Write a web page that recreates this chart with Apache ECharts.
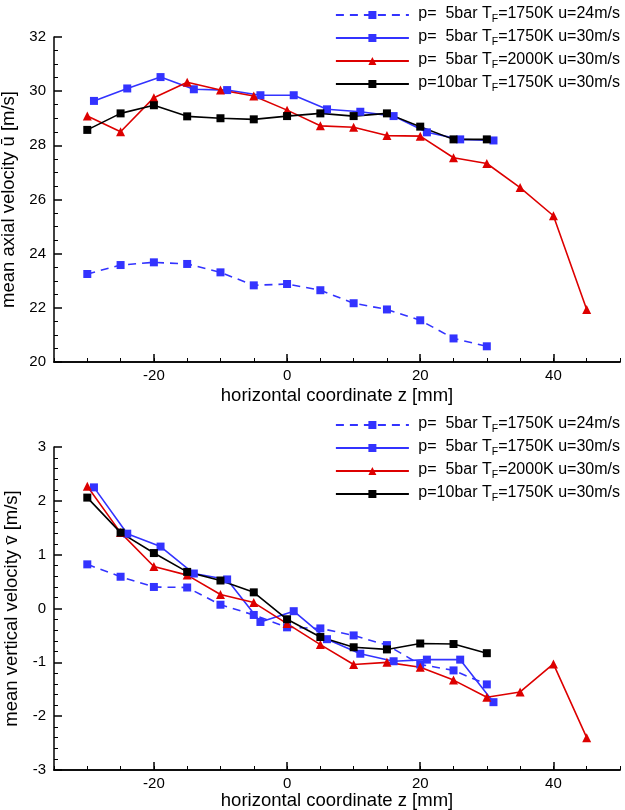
<!DOCTYPE html>
<html>
<head>
<meta charset="utf-8">
<script src="https://cdn.jsdelivr.net/npm/echarts@6/dist/echarts.min.js"></script>
<style>
  html, body { margin: 0; padding: 0; background: #fff; }
  #chart { width: 625px; height: 810px; }
</style>
</head>
<body>
<div id="chart"></div>
<script>
// z positions [mm]
const zStep = [-30, -25, -20, -15, -10, -5, 0, 5, 10, 15, 20, 25, 30];
const zShift = [-29, -24, -19, -14, -9, -4, 1, 6, 11, 16, 21, 26, 31];
const zLong = [-30, -25, -20, -15, -10, -5, 0, 5, 10, 15, 20, 25, 30, 35, 40, 45];

const names = [
  'p=  5bar TF=1750K u=24m/s',
  'p=  5bar TF=1750K u=30m/s',
  'p=  5bar TF=2000K u=30m/s',
  'p=10bar TF=1750K u=30m/s'
];

// mean axial velocity [m/s]
const uSlow = [23.25, 23.58, 23.68, 23.62, 23.31, 22.83, 22.88, 22.65, 22.17, 21.94, 21.54, 20.87, 20.58];
const uFast = [29.64, 30.1, 30.52, 30.07, 30.04, 29.85, 29.85, 29.33, 29.24, 29.08, 28.48, 28.22, 28.18];
const uHot = [29.08, 28.5, 29.76, 30.33, 30.04, 29.82, 29.3, 28.72, 28.67, 28.36, 28.34, 27.54, 27.33, 26.44, 25.4, 21.94];
const uHigh = [28.57, 29.18, 29.48, 29.07, 29.0, 28.96, 29.08, 29.18, 29.08, 29.18, 28.69, 28.22, 28.22];

// mean vertical velocity [m/s]
const vSlow = [0.82, 0.59, 0.40, 0.39, 0.07, -0.12, -0.35, -0.37, -0.5, -0.68, -1.04, -1.15, -1.41];
const vFast = [2.25, 1.39, 1.15, 0.65, 0.54, -0.25, -0.05, -0.57, -0.84, -0.98, -0.95, -0.95, -1.74];
const vHot = [2.27, 1.41, 0.78, 0.62, 0.26, 0.11, -0.28, -0.67, -1.04, -1.0, -1.09, -1.33, -1.65, -1.55, -1.03, -2.4];
const vHigh = [2.06, 1.41, 1.03, 0.68, 0.52, 0.3, -0.2, -0.53, -0.72, -0.76, -0.65, -0.66, -0.83];

const majorX = [-20, 0, 20, 40];

const FONT = "'Liberation Sans', Arial, sans-serif";
const BLUE = '#3333ff';
const RED = '#dd0000';
const BLACK = '#000000';

const pairs = (xs, ys) => xs.map((x, i) => [x, ys[i]]);

function xAxes(gridIndex, nameGap) {
  return [
    // minor ticks every 5 mm, labels only at multiples of 20
    {
      type: 'value', gridIndex: gridIndex, min: -35, max: 50, interval: 5,
      splitLine: {show: false},
      axisLine: {show: true, onZero: false, lineStyle: {color: '#000', width: 1.5}},
      axisTick: {show: true, inside: true, length: 4, lineStyle: {color: '#000', width: 1}},
      axisLabel: {
        show: true, color: '#000', fontSize: 15, fontFamily: FONT, margin: 6,
        formatter: v => (v % 20 === 0 ? String(v) : '')
      },
      name: 'horizontal coordinate z [mm]',
      nameLocation: 'middle',
      nameGap: nameGap,
      nameTextStyle: {color: '#000', fontSize: 18.5, fontFamily: FONT}
    },
    // longer major ticks, same place
    {
      type: 'value', gridIndex: gridIndex, min: -35, max: 50, position: 'bottom',
      splitLine: {show: false},
      axisLine: {show: true, onZero: false, lineStyle: {color: '#000', width: 1.5}},
      axisTick: {show: true, inside: true, length: 8, customValues: majorX, lineStyle: {color: '#000', width: 1.5}},
      axisLabel: {show: false}
    }
  ];
}

function yAxis(gridIndex, min, max, interval, split, name) {
  return {
    type: 'value', gridIndex: gridIndex, min: min, max: max, interval: interval,
    axisLine: {show: true, onZero: false, lineStyle: {color: '#000', width: 1.5}},
    axisTick: {show: true, inside: true, length: 8, lineStyle: {color: '#000', width: 1.5}},
    minorTick: {show: true, splitNumber: split, length: 4, lineStyle: {color: '#000', width: 1}},
    axisLabel: {color: '#000', fontSize: 15, fontFamily: FONT, margin: 8},
    splitLine: {show: false},
    name: name,
    nameLocation: 'middle',
    nameGap: 28,
    nameTextStyle: {color: '#000', fontSize: 18.5, fontFamily: FONT}
  };
}

const styles = [
  {color: BLUE, symbol: 'rect', symbolSize: 8, dash: [8, 6]},
  {color: BLUE, symbol: 'rect', symbolSize: 8, dash: 'solid'},
  {color: RED, symbol: 'triangle', symbolSize: 9, dash: 'solid'},
  {color: BLACK, symbol: 'rect', symbolSize: 8, dash: 'solid'}
];

function makeSeries(i, data, xIdx, yIdx) {
  const s = styles[i];
  return {
    type: 'line', name: names[i], data: data,
    xAxisIndex: xIdx, yAxisIndex: yIdx,
    symbol: s.symbol, symbolSize: s.symbolSize, showAllSymbol: true,
    itemStyle: {color: s.color},
    lineStyle: {color: s.color, width: 1.6, type: s.dash},
    animation: false
  };
}

function legendFor(top) {
  return {
    orient: 'vertical', right: 5, top: top, padding: 0,
    itemWidth: 73, itemHeight: 10, itemGap: 4,
    data: names,
    selectedMode: false,
    formatter: function (n) {
      const parts = n.split('TF');
      return '{n| ' + parts[0] + 'T}{sub|F}{n|' + parts[1] + '}';
    },
    textStyle: {
      color: '#000', fontSize: 16, fontFamily: FONT,
      rich: {
        n: {fontSize: 16, fontFamily: FONT, color: '#000', lineHeight: 18, verticalAlign: 'top'},
        sub: {fontSize: 10.5, fontFamily: FONT, color: '#000', lineHeight: 10, padding: [8, 0, 0, 0], verticalAlign: 'top'}
      }
    }
  };
}

const chart = echarts.init(document.getElementById('chart'), null, {renderer: 'canvas'});

const option = {
  backgroundColor: '#fff',
  animation: false,
  textStyle: {fontFamily: FONT},
  grid: [
    {left: 54, right: 5, top: 37, height: 325, outerBoundsMode: 'none', containLabel: false},
    {left: 54, right: 5, top: 447, height: 323, outerBoundsMode: 'none', containLabel: false}
  ],
  xAxis: xAxes(0, 24).concat(xAxes(1, 21)),
  yAxis: [
    yAxis(0, 20, 32, 2, 4, 'mean axial velocity \u016b [m/s]'),
    yAxis(1, -3, 3, 1, 5, 'mean vertical velocity v\u0304 [m/s]')
  ],
  legend: [legendFor(6), legendFor(416)],
  series: [
    makeSeries(0, pairs(zStep, uSlow), 0, 0),
    makeSeries(1, pairs(zShift, uFast), 0, 0),
    makeSeries(2, pairs(zLong, uHot), 0, 0),
    makeSeries(3, pairs(zStep, uHigh), 0, 0),
    makeSeries(0, pairs(zStep, vSlow), 2, 1),
    makeSeries(1, pairs(zShift, vFast), 2, 1),
    makeSeries(2, pairs(zLong, vHot), 2, 1),
    makeSeries(3, pairs(zStep, vHigh), 2, 1)
  ]
};

chart.setOption(option);
</script>
</body>
</html>
